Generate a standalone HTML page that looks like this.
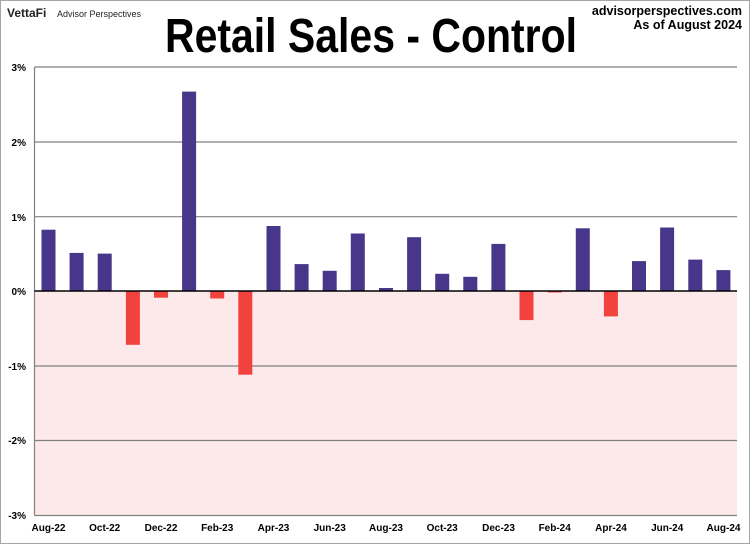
<!DOCTYPE html>
<html><head><meta charset="utf-8"><style>
body{margin:0;background:#fff}
svg{display:block}
text{font-family:"Liberation Sans",sans-serif}
</style></head><body>
<svg width="750" height="544" viewBox="0 0 750 544" xmlns="http://www.w3.org/2000/svg">
<rect x="0.5" y="0.5" width="749" height="543" fill="#fff" stroke="#a6a6a6" stroke-width="1"/>
<text x="7" y="17" font-size="12" font-weight="bold" fill="#222">VettaFi</text>
<text x="57" y="17" font-size="9" fill="#222">Advisor Perspectives</text>
<text x="742" y="15" font-size="12.5" font-weight="bold" text-anchor="end" fill="#000">advisorperspectives.com</text>
<text x="742" y="29" font-size="12.5" font-weight="bold" text-anchor="end" fill="#000">As of August 2024</text>
<text x="371" y="52" font-size="48" font-weight="bold" text-anchor="middle" fill="#000" textLength="412" lengthAdjust="spacingAndGlyphs">Retail Sales - Control</text>
<rect x="34.5" y="291" width="702.5" height="224.5" fill="#fde9ea"/>
<g stroke="#808080" stroke-width="1.2">
<line x1="34.5" y1="67" x2="737" y2="67"/>
<line x1="34.5" y1="142" x2="737" y2="142"/>
<line x1="34.5" y1="216.7" x2="737" y2="216.7"/>
<line x1="34.5" y1="366" x2="737" y2="366"/>
<line x1="34.5" y1="440.5" x2="737" y2="440.5"/>
<line x1="34.5" y1="515.5" x2="737" y2="515.5"/>
<line x1="34.5" y1="67" x2="34.5" y2="515.5"/>
</g>
<g fill="#47368a">
<rect x="41.5" y="229.7" width="14" height="61.3"/>
<rect x="69.6" y="252.9" width="14" height="38.1"/>
<rect x="97.7" y="253.6" width="14" height="37.4"/>
<rect x="182.1" y="91.6" width="14" height="199.4"/>
<rect x="266.5" y="226" width="14" height="65"/>
<rect x="294.6" y="264.1" width="14" height="26.9"/>
<rect x="322.7" y="270.8" width="14" height="20.2"/>
<rect x="350.8" y="233.5" width="14" height="57.5"/>
<rect x="379.0" y="288" width="14" height="3"/>
<rect x="407.1" y="237.2" width="14" height="53.8"/>
<rect x="435.2" y="273.8" width="14" height="17.2"/>
<rect x="463.3" y="276.8" width="14" height="14.2"/>
<rect x="491.4" y="243.9" width="14" height="47.1"/>
<rect x="575.8" y="228.3" width="14" height="62.7"/>
<rect x="632.0" y="261.1" width="14" height="29.9"/>
<rect x="660.1" y="227.5" width="14" height="63.5"/>
<rect x="688.3" y="259.6" width="14" height="31.4"/>
<rect x="716.4" y="270.1" width="14" height="20.9"/>
</g>
<g fill="#f2423d">
<rect x="125.9" y="291" width="14" height="53.8"/>
<rect x="154.0" y="291" width="14" height="6.7"/>
<rect x="210.2" y="291" width="14" height="7.5"/>
<rect x="238.3" y="291" width="14" height="83.7"/>
<rect x="519.5" y="291" width="14" height="29.1"/>
<rect x="547.7" y="291" width="14" height="1.5"/>
<rect x="603.9" y="291" width="14" height="25.4"/>
</g>
<line x1="34.5" y1="291" x2="737" y2="291" stroke="#000" stroke-width="1.5"/>
<g font-size="10" font-weight="bold" fill="#000" text-anchor="end">
<text x="26" y="71">3%</text>
<text x="26" y="146">2%</text>
<text x="26" y="221">1%</text>
<text x="26" y="295">0%</text>
<text x="26" y="370">-1%</text>
<text x="26" y="444">-2%</text>
<text x="26" y="519">-3%</text>
</g>
<g font-size="10" font-weight="bold" fill="#000" text-anchor="middle">
<text x="48.5" y="531">Aug-22</text>
<text x="104.7" y="531">Oct-22</text>
<text x="161" y="531">Dec-22</text>
<text x="217.2" y="531">Feb-23</text>
<text x="273.5" y="531">Apr-23</text>
<text x="329.7" y="531">Jun-23</text>
<text x="386" y="531">Aug-23</text>
<text x="442.2" y="531">Oct-23</text>
<text x="498.5" y="531">Dec-23</text>
<text x="554.7" y="531">Feb-24</text>
<text x="611" y="531">Apr-24</text>
<text x="667.2" y="531">Jun-24</text>
<text x="723.5" y="531">Aug-24</text>
</g>
</svg>
</body></html>
